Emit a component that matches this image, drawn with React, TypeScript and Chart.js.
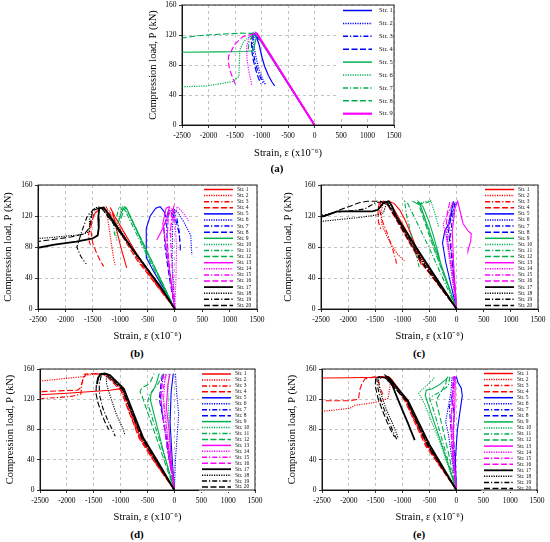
import { useEffect, useRef } from 'react'
import { Chart, registerables } from 'chart.js'

Chart.register(...registerables)
Chart.defaults.font.family = '"Liberation Serif", "Times New Roman", serif'
Chart.defaults.color = '#000'

type Pt = [number, number]

// strain (x10^-6) vs compression load (kN)
const X_MIN = -2500
const X_MAX = 1500
const X_STEP = 500
const Y_MIN = 0
const Y_MAX = 160
const Y_STEP = 40

const namesA = ['Str. 1', 'Str. 2', 'Str. 3', 'Str. 4', 'Str. 5', 'Str. 6', 'Str. 7', 'Str. 8', 'Str. 9', 'Str. 10', 'Str. 11']
const names20 = Array.from({ length: 20 }, (_, i) => `Str. ${i + 1}`)

const RED = '#ff0000'
const BLUE = '#0000ff'
const GREEN = '#00b050'
const MAGENTA = '#ff00ff'
const BLACK = '#000000'

const DASHES: number[][] = [[], [1.2, 1.2], [5, 2, 1.2, 2], [6, 2.5]]

const colorsA = [BLUE, BLUE, BLUE, BLUE, GREEN, GREEN, GREEN, GREEN, MAGENTA, MAGENTA, MAGENTA]
const dashA = [0, 1, 2, 3, 0, 1, 2, 3, 0, 1, 3]
const colors20 = [RED, RED, RED, RED, BLUE, BLUE, BLUE, BLUE, GREEN, GREEN, GREEN, GREEN,
  MAGENTA, MAGENTA, MAGENTA, MAGENTA, BLACK, BLACK, BLACK, BLACK]
const dash20 = names20.map((_, i) => i % 4)

// (a)
const seriesA: Pt[][] = [
  [[0, 0], [-500, 56], [-1000, 111], [-1110, 122], [-1090, 116], [-1040, 106], [-990, 90], [-940, 78], [-870, 66], [-800, 57], [-750, 52]],
  [[0, 0], [-1000, 111], [-1130, 122], [-1150, 112], [-1130, 100], [-1090, 86], [-1030, 70], [-970, 60], [-920, 53]],
  [[0, 0], [-1000, 111], [-1150, 122], [-1170, 110], [-1160, 98], [-1120, 84], [-1060, 70], [-1000, 60], [-960, 55]],
  [[0, 0], [-1000, 111], [-1160, 122], [-1190, 112], [-1185, 100], [-1160, 88], [-1110, 74], [-1060, 63], [-1010, 55]],
  [[0, 0], [-1000, 110], [-1090, 121], [-1120, 110], [-1150, 99], [-1300, 98], [-1800, 97.5], [-2500, 97]],
  [[0, 0], [-1000, 110], [-1080, 120], [-1220, 118], [-1340, 111], [-1410, 100], [-1425, 65], [-1540, 58], [-2040, 52], [-2500, 51]],
  [[0, 0], [-1000, 111], [-1100, 122], [-1180, 118], [-1240, 110], [-1250, 100]],
  [[0, 0], [-1000, 111], [-1090, 122], [-1400, 122.5], [-1800, 121], [-2200, 119], [-2500, 116]],
  [[0, 0], [-500, 56], [-1000, 112], [-1080, 121], [-1120, 123]],
  [[0, 0], [-1050, 118], [-1120, 122], [-1230, 117], [-1280, 105], [-1275, 90], [-1250, 76], [-1210, 62], [-1180, 52]],
  [[0, 0], [-1050, 118], [-1120, 122], [-1350, 118], [-1500, 108], [-1620, 92], [-1630, 85], [-1600, 74], [-1540, 62], [-1480, 52]],
]

// (b)
const seriesB: Pt[][] = [
  [[0, 0], [-640, 64], [-1100, 120], [-1180, 131], [-1140, 125], [-1090, 110], [-1040, 95], [-980, 78], [-920, 63], [-880, 53]],
  [[0, 0], [-650, 61], [-1150, 122], [-1250, 131], [-1230, 118], [-1200, 104], [-1170, 90], [-1140, 75], [-1110, 62], [-1090, 57]],
  [[0, 0], [-690, 66], [-1200, 124], [-1300, 131], [-1450, 125], [-1550, 108], [-1580, 94], [-1560, 86], [-1540, 82]],
  [[0, 0], [-690, 63], [-1250, 127], [-1350, 131], [-1480, 122], [-1540, 104], [-1500, 85], [-1430, 72], [-1360, 62], [-1300, 55]],
  [[0, 0], [-200, 26], [-400, 50], [-520, 66], [-525, 85], [-520, 104], [-450, 120], [-350, 130], [-270, 132], [-200, 126], [-160, 118]],
  [[0, 0], [-30, 30], [-50, 70], [-40, 110], [0, 128], [60, 124], [150, 114], [240, 102], [290, 95], [300, 82], [310, 70]],
  [[0, 0], [-80, 40], [-140, 80], [-150, 110], [-100, 128], [-20, 126], [40, 116], [80, 100], [90, 88]],
  [[0, 0], [-100, 40], [-180, 80], [-200, 105], [-120, 126], [-50, 124], [30, 112], [80, 96], [100, 80], [97, 74]],
  [[0, 0], [-400, 58], [-800, 117], [-880, 130], [-920, 132], [-980, 124], [-1030, 112]],
  [[0, 0], [-400, 55], [-850, 123], [-960, 132], [-1000, 122], [-1050, 108], [-1080, 96], [-1060, 88]],
  [[0, 0], [-420, 56], [-900, 126], [-1020, 132], [-1060, 120], [-1120, 108], [-1100, 95]],
  [[0, 0], [-380, 56], [-820, 120], [-900, 131], [-960, 122], [-1000, 112]],
  [[0, 0], [-80, 40], [-160, 80], [-220, 110], [-160, 130], [-100, 132], [-150, 115], [-250, 100], [-330, 89]],
  [[0, 0], [20, 40], [30, 80], [0, 120], [40, 132], [100, 128], [200, 120], [260, 112]],
  [[0, 0], [-40, 40], [-80, 90], [-60, 125], [-20, 132], [-60, 110], [-100, 95]],
  [[0, 0], [-100, 50], [-140, 90], [-120, 120], [-60, 130], [-20, 124], [-10, 110]],
  [[0, 0], [-250, 27], [-800, 80], [-1250, 126], [-1300, 131], [-1380, 130], [-1400, 118], [-1390, 105], [-1410, 95], [-1500, 91], [-1800, 87], [-2200, 83], [-2500, 79]],
  [[0, 0], [-250, 28], [-850, 84], [-1300, 128], [-1400, 132], [-1500, 128], [-1560, 115], [-1560, 100], [-1700, 96], [-2000, 94], [-2300, 92], [-2500, 91]],
  [[0, 0], [-260, 28], [-900, 89], [-1330, 130], [-1450, 131], [-1600, 120], [-1700, 100], [-1790, 80], [-1720, 68], [-1620, 58]],
  [[0, 0], [-260, 29], [-880, 88], [-1350, 131], [-1500, 127], [-1560, 105], [-1650, 97], [-1900, 93], [-2200, 90], [-2500, 87]],
]

// (c)
const seriesC: Pt[][] = [
  [[0, 0], [-640, 66], [-1150, 128], [-1250, 139], [-1150, 136], [-1050, 128], [-950, 115], [-850, 98], [-750, 80], [-680, 62], [-650, 57]],
  [[0, 0], [-640, 63], [-1250, 134], [-1350, 139], [-1390, 125], [-1380, 110], [-1300, 96], [-1200, 82], [-1080, 70], [-960, 62]],
  [[0, 0], [-660, 62], [-1300, 138], [-1400, 139], [-1420, 128], [-1360, 112], [-1280, 98], [-1200, 82], [-1130, 66], [-1100, 56]],
  [[0, 0], [-680, 62], [-1300, 138], [-1420, 139], [-1450, 128], [-1440, 112], [-1400, 103]],
  [[0, 0], [-100, 30], [-200, 60], [-260, 85], [-220, 100], [-150, 110], [-100, 125], [-60, 139]],
  [[0, 0], [-80, 40], [-150, 80], [-180, 100], [-120, 115], [-50, 130], [0, 139]],
  [[0, 0], [-50, 40], [-120, 90], [-80, 115], [-40, 135], [-20, 139]],
  [[0, 0], [-60, 50], [-150, 100], [-100, 120], [-60, 139]],
  [[0, 0], [-350, 70], [-650, 130], [-700, 138], [-620, 132], [-520, 115], [-430, 95], [-350, 75], [-290, 58], [-260, 50]],
  [[0, 0], [-370, 70], [-680, 136], [-600, 138], [-480, 140], [-430, 130], [-380, 118], [-330, 106]],
  [[0, 0], [-500, 78], [-900, 136], [-960, 139], [-920, 120], [-850, 100], [-780, 80], [-720, 62], [-690, 54]],
  [[0, 0], [-420, 78], [-700, 135], [-780, 138], [-650, 136], [-560, 137], [-480, 139]],
  [[0, 0], [-50, 50], [-80, 100], [-30, 130], [20, 139], [120, 110], [220, 100], [270, 97], [260, 88], [220, 78], [210, 75]],
  [[0, 0], [-100, 50], [-200, 95], [-250, 110], [-150, 125], [-50, 139]],
  [[0, 0], [-60, 60], [-150, 110], [-100, 130], [-70, 139]],
  [[0, 0], [-80, 50], [-200, 100], [-170, 125], [-120, 139]],
  [[0, 0], [-600, 64], [-1100, 118], [-1200, 134], [-1250, 139], [-1350, 137], [-1450, 128], [-1550, 126], [-1900, 126], [-2200, 126], [-2350, 122], [-2500, 119]],
  [[0, 0], [-620, 62], [-1150, 122], [-1270, 138], [-1300, 135], [-1350, 124], [-1500, 121], [-1800, 118], [-2100, 116], [-2500, 113]],
  [[0, 0], [-640, 62], [-1200, 130], [-1320, 139], [-1500, 137], [-1700, 129], [-1900, 127], [-2200, 125], [-2500, 121]],
  [[0, 0], [-660, 62], [-1250, 133], [-1400, 139], [-1650, 139], [-1800, 137], [-1950, 133], [-2150, 128], [-2350, 122], [-2500, 118]],
]

// (d)
const seriesD: Pt[][] = [
  [[0, 0], [-370, 40], [-630, 69], [-960, 133], [-1000, 134], [-1200, 132], [-1600, 130], [-2000, 128], [-2500, 126]],
  [[0, 0], [-380, 40], [-640, 69], [-980, 133], [-1200, 150], [-1400, 154], [-1600, 152], [-1700, 150], [-2100, 147], [-2500, 144]],
  [[0, 0], [-390, 40], [-650, 69], [-990, 132], [-1250, 152], [-1500, 154], [-1680, 153], [-1720, 140], [-1740, 127], [-1900, 124], [-2200, 122], [-2500, 121]],
  [[0, 0], [-400, 40], [-660, 69], [-1000, 132], [-1300, 153], [-1550, 154], [-1650, 153], [-1700, 146], [-1750, 135], [-1800, 132], [-2200, 131], [-2500, 130]],
  [[0, 0], [-40, 40], [-80, 90], [-60, 130], [-20, 154]],
  [[0, 0], [20, 40], [60, 80], [80, 100], [40, 130], [20, 154]],
  [[0, 0], [-120, 50], [-220, 100], [-260, 125], [-200, 154]],
  [[0, 0], [-100, 50], [-200, 90], [-280, 120], [-250, 140], [-220, 154]],
  [[0, 0], [-200, 50], [-450, 120], [-430, 128], [-380, 134], [-330, 142], [-300, 150], [-280, 154]],
  [[0, 0], [-60, 40], [-100, 90], [-120, 130], [-100, 154]],
  [[0, 0], [-250, 60], [-500, 115], [-470, 125], [-400, 132], [-320, 138], [-250, 148], [-200, 154]],
  [[0, 0], [-300, 62], [-600, 124], [-640, 130], [-600, 136], [-520, 138], [-450, 142], [-400, 150], [-380, 154]],
  [[0, 0], [-60, 40], [-100, 80], [-150, 110], [-120, 140], [-80, 154]],
  [[0, 0], [-80, 40], [-150, 90], [-200, 120], [-170, 154]],
  [[0, 0], [-100, 50], [-180, 100], [-220, 130], [-150, 154]],
  [[0, 0], [-120, 50], [-200, 90], [-250, 120], [-230, 145], [-200, 154]],
  [[0, 0], [-330, 40], [-580, 69], [-940, 134], [-1200, 152], [-1300, 154], [-1380, 153], [-1420, 148], [-1440, 140]],
  [[0, 0], [-340, 40], [-590, 69], [-950, 133], [-1220, 152], [-1270, 154], [-1260, 140], [-1220, 130], [-1150, 115], [-1080, 100], [-1000, 88], [-950, 80], [-920, 73]],
  [[0, 0], [-350, 40], [-600, 69], [-960, 133], [-1250, 153], [-1350, 154], [-1400, 140], [-1390, 125], [-1330, 108], [-1250, 94], [-1170, 82], [-1100, 71]],
  [[0, 0], [-360, 40], [-610, 69], [-970, 133], [-1280, 153], [-1400, 152], [-1450, 140], [-1460, 128], [-1420, 115], [-1350, 100], [-1280, 88], [-1220, 80]],
]

// (e)
const seriesE: Pt[][] = [
  [[0, 0], [-540, 60], [-920, 118], [-1200, 146], [-1260, 150], [-1500, 149], [-2000, 148.5], [-2500, 148]],
  [[0, 0], [-550, 59], [-940, 118], [-1180, 140], [-1220, 145], [-1240, 135], [-1270, 121], [-1500, 116], [-1890, 112], [-1985, 108], [-2500, 104]],
  [[0, 0], [-560, 59], [-950, 118], [-1250, 147], [-1380, 150], [-1450, 145], [-1420, 135], [-1360, 125]],
  [[0, 0], [-570, 58], [-960, 118], [-1260, 148], [-1500, 150], [-1700, 147], [-1760, 140], [-1800, 132], [-1820, 120], [-2000, 118], [-2500, 118]],
  [[0, 0], [-20, 40], [20, 80], [80, 110], [110, 125], [90, 135], [30, 142], [0, 150]],
  [[0, 0], [-80, 40], [-150, 75], [-200, 90], [-150, 110], [-100, 130], [-80, 150]],
  [[0, 0], [-60, 40], [-100, 80], [-130, 110], [-60, 130], [-30, 150]],
  [[0, 0], [-30, 40], [-60, 80], [-40, 100], [-80, 120], [-40, 150]],
  [[0, 0], [-250, 55], [-500, 108], [-580, 125], [-560, 132], [-450, 134], [-300, 140], [-200, 146], [-150, 150]],
  [[0, 0], [-300, 62], [-600, 115], [-700, 128], [-650, 132], [-550, 138], [-450, 145], [-400, 150]],
  [[0, 0], [-200, 50], [-400, 100], [-500, 122], [-350, 128], [-250, 132], [-150, 138], [-120, 150]],
  [[0, 0], [-150, 50], [-300, 95], [-380, 118], [-300, 128], [-200, 140], [-170, 150]],
  [[0, 0], [-40, 40], [-60, 80], [-30, 110], [-20, 150]],
  [[0, 0], [-50, 40], [-80, 80], [-100, 90], [-60, 120], [-30, 150]],
  [[0, 0], [-60, 50], [-40, 100], [-70, 130], [-50, 150]],
  [[0, 0], [-70, 40], [-100, 80], [-80, 120], [-60, 150]],
  [[0, 0], [-500, 60], [-900, 118], [-1250, 148], [-1300, 150], [-1200, 140], [-1100, 122], [-1000, 105], [-900, 88], [-820, 74], [-775, 66]],
  [[0, 0], [-510, 59], [-910, 118], [-1300, 148], [-1450, 150], [-1440, 138], [-1380, 122], [-1300, 106], [-1200, 90], [-1120, 76], [-1080, 68]],
  [[0, 0], [-520, 59], [-920, 118], [-1320, 148], [-1480, 150], [-1470, 138], [-1420, 122], [-1340, 106], [-1250, 90], [-1170, 76], [-1110, 67]],
  [[0, 0], [-530, 58], [-930, 118], [-1330, 149], [-1500, 149], [-1510, 138], [-1460, 122], [-1380, 106], [-1290, 90], [-1210, 78], [-1150, 70]],
]

interface Geo {
  cx: number; cy: number; cw: number; ch: number
  left: number; top: number; right: number; bottom: number
  yTitleX: number; xTitleY: number
}

interface LegendOpts {
  count: number; first: number; step: number
  lineL: number; lineR: number; textL: number; size: number
  boxW: number; boxH: number
}

const strLegend = {
  id: 'strLegend',
  afterDraw(chart: any, _args: any, opts: LegendOpts) {
    const { ctx, chartArea: a } = chart
    ctx.save()
    ctx.fillStyle = '#fff'
    ctx.fillRect(a.right - opts.boxW, a.top + 1, opts.boxW - 1, opts.boxH)
    chart.data.datasets.slice(0, opts.count).forEach((ds: any, i: number) => {
      const y = a.top + opts.first + i * opts.step
      ctx.strokeStyle = ds.borderColor
      ctx.lineWidth = Math.max(1.5, ds.borderWidth)
      ctx.setLineDash(ds.borderDash)
      ctx.beginPath()
      ctx.moveTo(a.right - opts.lineL, y)
      ctx.lineTo(a.right - opts.lineR, y)
      ctx.stroke()
      ctx.setLineDash([])
      ctx.fillStyle = '#111'
      ctx.font = `${opts.size}px "Liberation Serif"`
      ctx.textBaseline = 'middle'
      ctx.fillText(ds.label, a.right - opts.textL, y)
    })
    ctx.strokeStyle = '#222'
    ctx.lineWidth = 1
    ctx.strokeRect(a.left, a.top, a.right - a.left, a.bottom - a.top)
    ctx.restore()
  },
}

interface PanelProps {
  series: Pt[][]
  names: string[]
  colors: string[]
  dash: number[]
  widths: number[]
  geo: Geo
  legend: LegendOpts
}

function Panel({ series, names, colors, dash, widths, geo, legend }: PanelProps) {
  const ref = useRef<HTMLCanvasElement>(null)

  useEffect(() => {
    if (!ref.current) return
    const yW = geo.left - geo.cx
    const xH = geo.cy + geo.ch - geo.bottom
    const titleLh = 10.5 * 1.2
    const chart = new Chart(ref.current, {
      type: 'scatter',
      data: {
        datasets: series.map((pts, i) => ({
          label: names[i],
          data: pts.map(([x, y]) => ({ x, y })),
          showLine: true,
          pointRadius: 0,
          borderColor: colors[i],
          backgroundColor: colors[i],
          borderWidth: widths[i],
          borderDash: DASHES[dash[i]],
          tension: 0,
          // later gauges are drawn over the earlier ones
          order: series.length - i,
        })),
      },
      options: {
        responsive: false,
        animation: false,
        layout: {
          padding: {
            left: 0,
            top: geo.top - geo.cy,
            right: geo.cx + geo.cw - geo.right,
            bottom: 0,
          },
        },
        plugins: {
          legend: { display: false },
          tooltip: { enabled: false },
          strLegend: legend,
        } as any,
        scales: {
          x: {
            type: 'linear',
            min: X_MIN,
            max: X_MAX,
            afterFit: (s: any) => {
              s.height = xH
              s.paddingLeft = 0
              s.paddingRight = 0
            },
            ticks: {
              stepSize: X_STEP,
              autoSkip: false,
              maxRotation: 0,
              padding: 4,
              font: { size: 7.5 },
              callback: (v: any) => String(v),
            },
            grid: { color: '#b4b4b4', lineWidth: 0.8, tickLength: 3, tickColor: '#000' },
            border: { color: '#000', width: 1, dash: [3, 3] },
            title: {
              display: true,
              text: 'Strain, ε (x10⁻⁶)',
              font: { size: 10.5 },
              padding: { top: 0, bottom: geo.cy + geo.ch - geo.xTitleY - titleLh / 2 },
            },
          },
          y: {
            type: 'linear',
            min: Y_MIN,
            max: Y_MAX,
            afterFit: (s: any) => {
              s.width = yW
              s.paddingTop = 0
              s.paddingBottom = 0
            },
            ticks: {
              stepSize: Y_STEP,
              padding: 2.5,
              font: { size: 7.5 },
              callback: (v: any) => String(v),
            },
            grid: { color: '#b4b4b4', lineWidth: 0.8, tickLength: 3, tickColor: '#000' },
            border: { color: '#000', width: 1, dash: [3, 3] },
            title: {
              display: true,
              text: 'Compression load, P (kN)',
              font: { size: 10.5 },
              padding: { top: geo.yTitleX - geo.cx - titleLh / 2, bottom: 0 },
            },
          },
        },
      },
      plugins: [strLegend],
    } as any)
    return () => chart.destroy()
  }, [])

  return (
    <canvas
      ref={ref}
      width={geo.cw}
      height={geo.ch}
      style={{ position: 'absolute', left: geo.cx, top: geo.cy, width: geo.cw, height: geo.ch }}
    />
  )
}

const geoA: Geo = { cx: 140, cy: 0, cw: 270, ch: 162, left: 182, top: 5, right: 394, bottom: 125, yTitleX: 153, xTitleY: 153 }
const geoB: Geo = { cx: 0, cy: 175, cw: 270, ch: 170, left: 38, top: 185, right: 257, bottom: 309, yTitleX: 8, xTitleY: 336 }
const geoC: Geo = { cx: 278, cy: 175, cw: 272, ch: 170, left: 321, top: 185, right: 538, bottom: 309, yTitleX: 288, xTitleY: 336 }
const geoD: Geo = { cx: 0, cy: 360, cw: 270, ch: 165, left: 40, top: 369, right: 255, bottom: 490, yTitleX: 10, xTitleY: 517 }
const geoE: Geo = { cx: 280, cy: 360, cw: 270, ch: 165, left: 322, top: 369, right: 537, bottom: 490, yTitleX: 292, xTitleY: 517 }

const legendA: LegendOpts = { count: 9, first: 5.5, step: 12.9, lineL: 51, lineR: 22, textL: 15, size: 6.5, boxW: 55, boxH: 110 }
const legend20 = (step: number, first: number): LegendOpts => ({
  count: 20, first, step, lineL: 53, lineR: 24, textL: 20, size: 5.5, boxW: 56, boxH: 122,
})

const widthsA = seriesA.map((_, i) => (i === 8 ? 2.2 : 1.2))
const widths20 = names20.map((_, i) => (i === 16 ? 1.8 : 1.1))

const tagStyle = (x: number, y: number): React.CSSProperties => ({
  position: 'absolute',
  left: x - 20,
  top: y - 7,
  width: 40,
  textAlign: 'center',
  font: 'bold 11px "Liberation Serif", serif',
  lineHeight: '14px',
  color: '#000',
})

export default function App() {
  return (
    <div style={{ position: 'absolute', left: 0, top: 0, width: 550, height: 542, background: '#fff' }}>
      <Panel series={seriesA} names={namesA} colors={colorsA} dash={dashA} widths={widthsA} geo={geoA} legend={legendA} />
      <Panel series={seriesB} names={names20} colors={colors20} dash={dash20} widths={widths20} geo={geoB} legend={legend20(6.1, 4.5)} />
      <Panel series={seriesC} names={names20} colors={colors20} dash={dash20} widths={widths20} geo={geoC} legend={legend20(6.1, 4.5)} />
      <Panel series={seriesD} names={names20} colors={colors20} dash={dash20} widths={widths20} geo={geoD} legend={legend20(5.95, 5)} />
      <Panel series={seriesE} names={names20} colors={colors20} dash={dash20} widths={widths20} geo={geoE} legend={legend20(6.05, 4.5)} />
      <div style={tagStyle(277, 168)}>(a)</div>
      <div style={tagStyle(137, 353)}>(b)</div>
      <div style={tagStyle(419, 353)}>(c)</div>
      <div style={tagStyle(137, 534)}>(d)</div>
      <div style={tagStyle(419, 534)}>(e)</div>
    </div>
  )
}
